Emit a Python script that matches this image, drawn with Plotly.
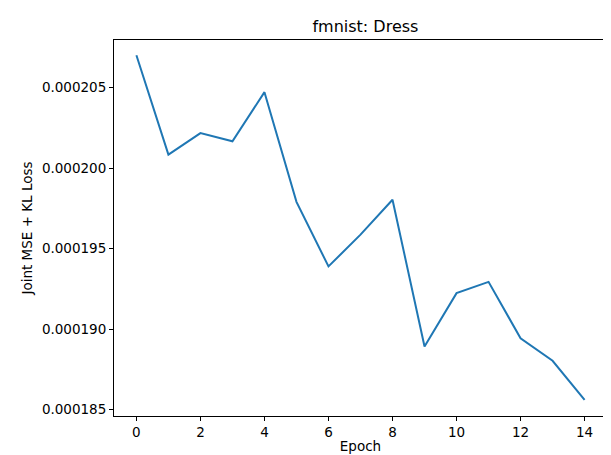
import plotly.graph_objects as go

epochs = list(range(15))
loss = [207.0e-6, 200.83e-6, 202.17e-6, 201.66e-6, 204.71e-6, 197.9e-6, 193.89e-6,
        195.86e-6, 198.03e-6, 188.92e-6, 192.23e-6, 192.93e-6, 189.43e-6, 188.03e-6, 185.6e-6]
y_ticks = [0.000185, 0.000190, 0.000195, 0.000200, 0.000205]
x_ticks = [0, 2, 4, 6, 8, 10, 12, 14]

fig = go.Figure(go.Scatter(x=epochs, y=loss, mode="lines",
                           line=dict(color="#1f77b4", width=2)))

axis_style = dict(showline=True, linecolor="black", linewidth=1, mirror=True,
                  ticks="outside", ticklen=4, tickcolor="black", showgrid=False,
                  zeroline=False, tickfont=dict(size=13.5, color="black"))

fig.update_layout(
    width=611, height=455,
    margin=dict(l=106, r=11, t=32, b=45),
    plot_bgcolor="white", paper_bgcolor="white",
    font=dict(family="DejaVu Sans", color="black"),
    title=dict(text="fmnist: Dress", x=0.585, xanchor="center", y=0.972, font=dict(size=16)),
    showlegend=False,
)
fig.update_xaxes(range=[-0.7, 14.7], tickvals=x_ticks,
                 title=dict(text="Epoch", font=dict(size=13.5), standoff=2), **axis_style)
fig.update_yaxes(range=[184.6e-6, 207.95e-6], tickvals=y_ticks,
                 ticktext=[f"{v:.6f}" for v in y_ticks],
                 title=dict(text="Joint MSE + KL Loss", font=dict(size=13.5), standoff=6), **axis_style)

fig.write_html("out.html")
